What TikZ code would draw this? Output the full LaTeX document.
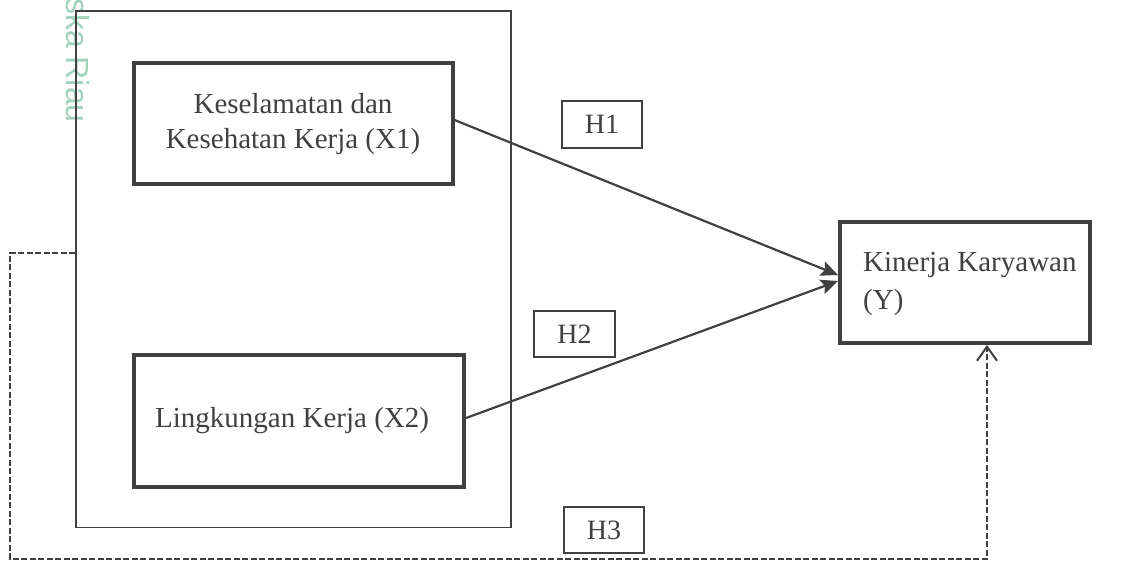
\documentclass[tikz,border=0pt]{standalone}
\usepackage{fontspec}
\setmainfont{Liberation Serif}
\newfontfamily\wmfont{Liberation Sans}
\usetikzlibrary{arrows.meta}
\definecolor{ink}{HTML}{404040}
\definecolor{wmgreen}{RGB}{160,210,188}
\begin{document}
\begin{tikzpicture}[x=1pt,y=-1pt,
  thickbox/.style={draw=ink, line width=4pt, inner sep=0pt},
  thinbox/.style={draw=ink, line width=1.7pt, inner sep=0pt},
  hbox/.style={draw=ink, line width=1.7pt, inner sep=0pt, minimum width=80pt, minimum height=46pt, text=ink, font=\fontsize{28}{34}\selectfont},
  txt/.style={text=ink, font=\fontsize{29}{35}\selectfont, inner sep=0pt},
  arrowline/.style={draw=ink, line width=2.2pt, -{Stealth[length=17pt,width=15pt,inset=3pt]}},
  dashline/.style={draw=ink, line width=2pt, dash pattern=on 6pt off 2.5pt, -{Straight Barb[length=14pt,width=20pt,line width=2pt]}}
]
\useasboundingbox (0,0) rectangle (1126,564);
% watermark text
\node[anchor=base west, rotate=-90, inner sep=0pt, text=wmgreen, font=\wmfont\fontsize{32}{32}\selectfont] (wm) at (66,-2) {ska Riau};
% outer frame
\node[thinbox, minimum width=435pt, minimum height=516.5pt] (outer) at (293.5,269.25) {};
% variable boxes
\node[thickbox, txt, minimum width=319pt, minimum height=121pt, align=center] (x1) at (293,123.8) {Keselamatan dan\\Kesehatan Kerja (X1)};
\node[thickbox, minimum width=330.5pt, minimum height=131.5pt] (x2) at (298.8,421) {};
\node[txt, anchor=west] (x2t) at (155,421) {Lingkungan Kerja (X2)};
\node[thickbox, minimum width=250pt, minimum height=121pt] (y) at (965,282.5) {};
\node[txt, anchor=west, align=left, font=\fontsize{29}{38}\selectfont] (yt) at (863,284) {Kinerja Karyawan\\(Y)};
% hypothesis labels
\node[hbox, minimum height=47pt] (h1) at (602,124.5) {H1};
\node[hbox, minimum width=81pt] (h2) at (574.5,334) {H2};
\node[hbox] (h3) at (604,530) {H3};
% connectors
\draw[arrowline] ([yshift=3.8pt]x1.east) -- ([yshift=7.5pt]y.west);
\draw[arrowline] ([yshift=3pt]x2.east) -- ([yshift=1.5pt]y.west);
\coordinate (dl) at (10,559);
\draw[dashline] ([yshift=16.25pt]outer.west) -| (dl) -| ([xshift=22pt]y.south);
\end{tikzpicture}
\end{document}
